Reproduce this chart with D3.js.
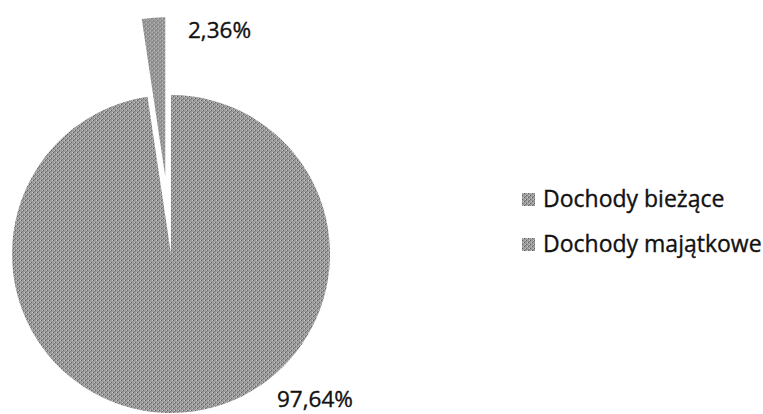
<!DOCTYPE html>
<html>
<head>
<meta charset="utf-8">
<script src="https://cdn.jsdelivr.net/npm/d3@7"></script>
<style>
	body { margin: 0; background: #fff; }
	text { font-family: "Open Sans", sans-serif; fill: #111; stroke: #111; stroke-width: 0.35px; }
</style>
</head>
<body>
<script>
// chart data
var categories = ["Dochody bieżące", "Dochody majątkowe"];
var shares = [97.64, 2.36];
var labels = ["97,64%", "2,36%"];

function pieChart(){

	var width = 763;
	var height = 414;
	var svg = d3.select("body")
				.append("svg")
				.attr("width", width)
				.attr("height", height);

	// grey halftone look of the scanned chart
	var defs = svg.append("defs");
	var pat = defs.append("pattern")
				.attr("id", "halftone")
				.attr("patternUnits", "userSpaceOnUse")
				.attr("width", 4)
				.attr("height", 4);
	pat.append("rect").attr("width", 4).attr("height", 4).attr("fill", "#9c9c9c");
	pat.append("rect").attr("x", 0).attr("y", 0).attr("width", 1).attr("height", 1).attr("fill", "#626262");
	pat.append("rect").attr("x", 2).attr("y", 2).attr("width", 1).attr("height", 1).attr("fill", "#626262");
	pat.append("rect").attr("x", 3).attr("y", 1).attr("width", 1).attr("height", 1).attr("fill", "#7a7a7a");
	pat.append("rect").attr("x", 1).attr("y", 2).attr("width", 1).attr("height", 1).attr("fill", "#c6c6c6");
	pat.append("rect").attr("x", 3).attr("y", 0).attr("width", 1).attr("height", 1).attr("fill", "#c6c6c6");

	var cx = 171, cy = 254, radius = 159;
	var explode = [0, 78];

	var pie = d3.pie()
				.sort(null)
				.value(function(d){ return d; });
	var arc = d3.arc()
				.innerRadius(0)
				.outerRadius(radius);

	var slices = pie(shares);

	var g = svg.append("g")
				.attr("transform", "translate(" + cx + "," + cy + ")");

	g.selectAll(".slice")
		.data(slices)
		.enter()
		.append("path")
		.attr("class", "slice")
		.attr("fill", "url(#halftone)")
		.attr("d", arc)
		.attr("transform", function(d, i){
			var a = (d.startAngle + d.endAngle) / 2;
			return "translate(" + (Math.sin(a) * explode[i]) + "," + (-Math.cos(a) * explode[i]) + ")";
		});

	// data labels (best fit positions like the original)
	var labelPos = [[106, 153], [17, -216]];
	g.selectAll(".lbl")
		.data(slices)
		.enter()
		.append("text")
		.attr("class", "lbl")
		.attr("x", function(d, i){ return labelPos[i][0]; })
		.attr("y", function(d, i){ return labelPos[i][1]; })
		.attr("font-size", "22.5px")
		.text(function(d, i){ return labels[i]; });

	// legend
	var legend = svg.selectAll(".legend")
				.data(categories)
				.enter()
				.append("g")
				.attr("class", "legend")
				.attr("transform", function(d, i){ return "translate(522," + (199 + i * 45) + ")"; });
	legend.append("rect")
		.attr("x", 0)
		.attr("y", -6)
		.attr("width", 13)
		.attr("height", 13)
		.attr("fill", "url(#halftone)");
	legend.append("text")
		.attr("x", 21)
		.attr("y", 8)
		.attr("font-size", "23px")
		.text(function(d){ return d; });
}

pieChart();
</script>
</body>
</html>
